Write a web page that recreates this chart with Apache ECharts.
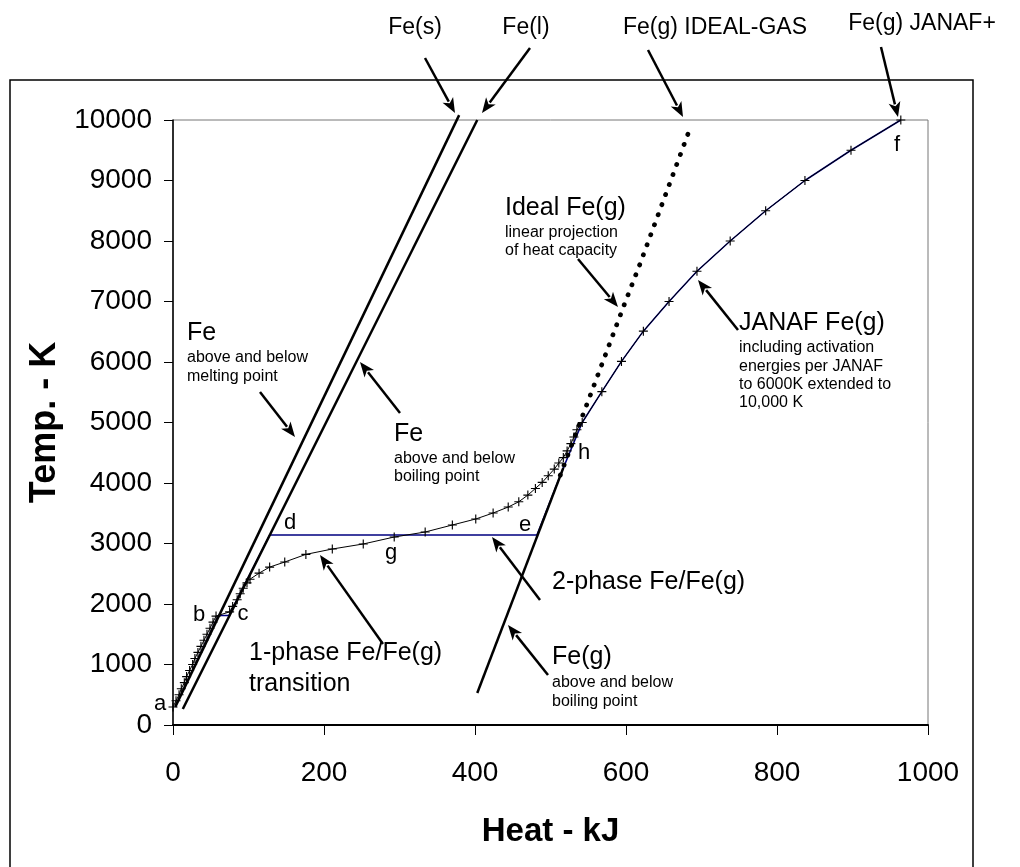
<!DOCTYPE html>
<html><head><meta charset="utf-8">
<script src="https://cdn.jsdelivr.net/npm/echarts@6/dist/echarts.min.js"></script>
<style>html,body{margin:0;padding:0;background:#fff}#c{width:1020px;height:867px}</style>
</head><body><div id="c"></div>
<script>
// ---- data (Heat kJ, Temperature K) ----
const xTicks = [0, 200, 400, 600, 800, 1000];
const yTicks = [0,1000,2000,3000,4000,5000,6000,7000,8000,9000,10000];
const feSolid = [[3,300],[379,10080]];
const feLiquid = [[13,265],[403,10000]];
const feGas = [[403,530],[517,4250]];
const idealGas = [[513,4130],[597,6925],[618,7603],[683,9800]];
const pathBlue = [[3,300],[60,1810],[74,1810],[128,3140],[482,3140],[517,4250],[542,5000],[568,5510],[594,6010],[623,6510],[657,7000],[694,7500],[738,8000],[785,8500],[837,9000],[898,9500],[964,10000]];
const transition = [[0,298],[4,400],[8,500],[11,600],[15,700],[18,800],[22,900],[26,1000],[29,1100],[33,1200],[37,1300],[41,1400],[45,1500],[49,1600],[53,1700],[57,1800],
 [75,1870],[79,1960],[85,2070],[89,2170],[93,2260],[98,2350],[102,2410],[114,2510],[128,2610],[148,2694],[176,2820],[211,2909],[252,2992],[293,3107],
 [334,3190],[370,3306],[401,3405],[424,3504],[444,3603],[458,3690],[470,3800],[480,3910],[489,4010],[497,4120],[505,4230],[511,4330],[517,4420],[522,4530],[527,4650],[531,4760],[535,4880],[542,5000],
 [568,5510],[594,6010],[623,6510],[657,7000],[694,7500],[738,8000],[785,8500],[837,9000],[898,9500],[964,10000]];

const SANS = '"Liberation Sans",Arial,sans-serif';
const plus = 'path://M-0.5,-4H0.5V-0.5H4V0.5H0.5V4H-0.5V0.5H-4V-0.5H-0.5Z';

const chart = echarts.init(document.getElementById('c'), null, {renderer:'canvas'});
const option = {
  animation:false,
  backgroundColor:'#fff',
  grid:{left:173,right:92,top:120,bottom:142,show:true,borderColor:'#777',borderWidth:1,backgroundColor:'transparent'},
  xAxis:{type:'value',min:xTicks[0],max:xTicks[xTicks.length-1],interval:xTicks[1]-xTicks[0],
    name:'Heat - kJ',nameLocation:'middle',nameGap:90,
    nameTextStyle:{fontFamily:SANS,fontSize:33,fontWeight:'bold',color:'#000'},
    axisLine:{lineStyle:{color:'#000',width:2}},
    axisTick:{show:true,inside:false,length:10,lineStyle:{color:'#000',width:1}},
    axisLabel:{margin:34,fontFamily:SANS,fontSize:28,color:'#000',formatter:v=>String(v)},
    splitLine:{show:false}},
  yAxis:{type:'value',min:yTicks[0],max:yTicks[yTicks.length-1],interval:yTicks[1]-yTicks[0],
    name:'Temp. - K',nameLocation:'middle',nameGap:90,nameRotate:90,
    nameTextStyle:{fontFamily:SANS,fontSize:36,fontWeight:'bold',color:'#000'},
    axisLine:{lineStyle:{color:'#000',width:1.5}},
    axisTick:{show:true,inside:false,length:9,lineStyle:{color:'#000',width:1}},
    axisLabel:{margin:21,fontFamily:SANS,fontSize:28,color:'#000',formatter:v=>String(v)},
    splitLine:{show:false}},
  series:[
    {name:'path',type:'line',data:pathBlue,showSymbol:false,symbol:'none',clip:false,z:2,
      lineStyle:{color:'#000080',width:1.5}},
    {name:'Fe(s)',type:'line',data:feSolid,symbol:'none',clip:false,z:3,lineStyle:{color:'#000',width:2.5}},
    {name:'Fe(l)',type:'line',data:feLiquid,symbol:'none',clip:false,z:3,lineStyle:{color:'#000',width:2.5}},
    {name:'Fe(g)',type:'line',data:feGas,symbol:'none',clip:false,z:3,lineStyle:{color:'#000',width:2.5}},
    {name:'Ideal Fe(g)',type:'line',data:idealGas,symbol:'none',clip:false,z:3,
      lineStyle:{color:'#000',width:4.8,type:[0.1,10.6],cap:'round'}},
    {name:'JANAF',type:'line',data:transition,symbol:plus,symbolSize:9,showAllSymbol:true,clip:false,z:4,
      lineStyle:{color:'#000',width:1},itemStyle:{color:'#000'}}
  ]
};
chart.setOption(option);

// ---- annotations ----
const g = [];
g.push({type:'rect',shape:{x:10,y:80,width:963,height:820},style:{fill:'none',stroke:'#000',lineWidth:1.5},z:-10,silent:true});
function txt(s,x,y,size,align){
  g.push({type:'text',x:x,y:y,style:{text:s,font:size+'px '+SANS,fill:'#000',align:align||'left',verticalAlign:'middle'},z:50});
}
function arrow(x1,y1,x2,y2){
  const dx=x2-x1, dy=y2-y1, L=Math.hypot(dx,dy), ux=dx/L, uy=dy/L;
  const hl=15, hw=6;
  const bx=x2-ux*hl, by=y2-uy*hl;
  g.push({type:'line',shape:{x1:x1,y1:y1,x2:x2-ux*(hl-2),y2:y2-uy*(hl-2)},style:{stroke:'#000',lineWidth:2.5},z:50});
  g.push({type:'polygon',shape:{points:[[x2,y2],[bx-uy*hw,by+ux*hw],[x2-ux*(hl-4),y2-uy*(hl-4)],[bx+uy*hw,by-ux*hw]]},style:{fill:'#000'},z:50});
}
txt('Fe(s)',415,28,23,'center');
txt('Fe(l)',526,28,23,'center');
txt('Fe(g) IDEAL-GAS',715,28,23,'center');
txt('Fe(g) JANAF+',922,24,23,'center');
arrow(425,58,455,113);
arrow(530,48,482,113);
arrow(648,50,683,117);
arrow(881,47,898,117);

txt('Fe',187,333,25); txt('above and below',187,358,16); txt('melting point',187,377,16);
arrow(260,392,295,437);
txt('Fe',394,434,25); txt('above and below',394,459,16); txt('boiling point',394,477,16);
arrow(400,413,360,362);
txt('d',290,523,22,'center'); txt('e',525,525,22,'center'); txt('g',391,553,22,'center');
txt('b',199,615,22,'center'); txt('c',243,614,22,'center'); txt('a',160,704,22,'center');
txt('h',584,453,22,'center'); txt('f',897,145,22,'center');
txt('1-phase Fe/Fe(g)',249,653,25); txt('transition',249,684,25);
arrow(383,644,320,555);
txt('2-phase Fe/Fe(g)',552,582,25);
arrow(540,600,492,537);
txt('Fe(g)',552,657,25); txt('above and below',552,683,16); txt('boiling point',552,702,16);
arrow(548,675,508,625);
txt('Ideal Fe(g)',505,208,25); txt('linear projection',505,233,16); txt('of heat capacity',505,251,16);
arrow(578,259,618,307);
txt('JANAF Fe(g)',739,323,25);
txt('including activation',739,348,16); txt('energies per JANAF',739,367,16);
txt('to 6000K extended to',739,385,16); txt('10,000 K',739,403,16);
arrow(738,330,698,280);
chart.setOption({graphic:g});
</script></body></html>
